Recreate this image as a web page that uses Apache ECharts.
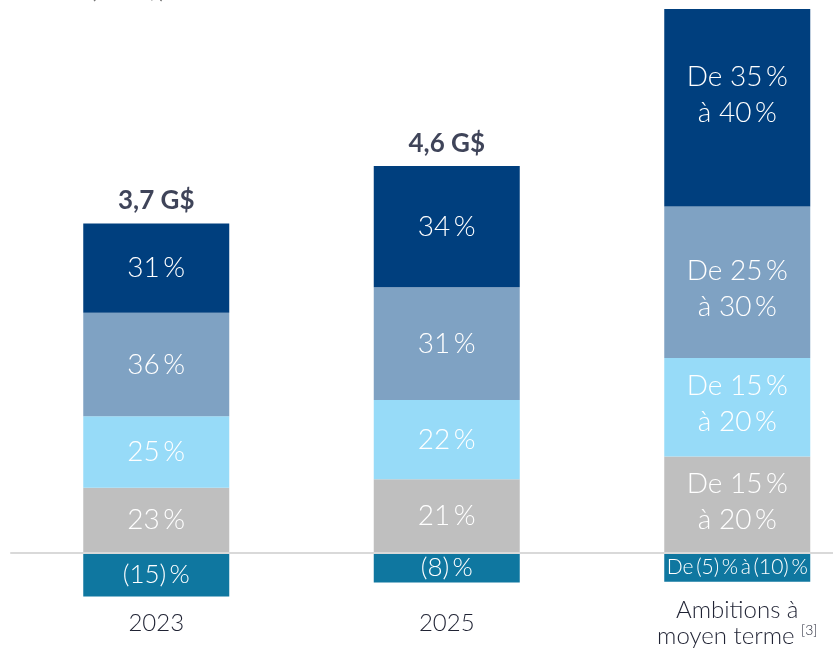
<!DOCTYPE html>
<html>
<head>
<meta charset="utf-8">
<script src="https://cdn.jsdelivr.net/npm/echarts@6/dist/echarts.min.js"></script>
<style>
html,body{margin:0;padding:0;background:#fff;}
#chart{width:833px;height:657px;}
</style>
</head>
<body>
<div id="chart"></div>
<script>
// Categories
var categories = ['2023', '2025', 'Ambitions à\nmoyen terme'];
// Segment values (G$), stacked bottom to top, negative segment below zero
var seg4Gray      = [0.84, 0.95, 1.24];
var seg3LightBlue = [0.92, 1.02, 1.27];
var seg2GrayBlue  = [1.33, 1.45, 1.95];
var seg1Navy      = [1.15, 1.56, 2.54];
var seg5Teal      = [-0.56, -0.38, -0.37];
// Segment labels
var lblGray      = ['23\u2009%', '21\u2009%', 'De 15\u2009%\nà 20\u2009%'];
var lblLightBlue = ['25\u2009%', '22\u2009%', 'De 15\u2009%\nà 20\u2009%'];
var lblGrayBlue  = ['36\u2009%', '31\u2009%', 'De 25\u2009%\nà 30\u2009%'];
var lblNavy      = ['31\u2009%', '34\u2009%', 'De 35\u2009%\nà 40\u2009%'];
var lblTeal      = ['(15)\u2009%', '(8)\u2009%', 'De\u2009(5)\u2009%\u2009à\u2009(10)\u2009%'];
// Totals above bars
var totalLabels  = ['3,7 G$', '4,6 G$', ''];

var FONT = 'Lato, "Noto Sans", sans-serif';

function segSeries(name, data, labels, color, fontSize, ambOffsetY) {
  return {
    name: name,
    type: 'bar',
    stack: 'all',
    barWidth: 146,
    data: data.map(function (v, i) {
      var item = { value: v };
      if (i === 2 && ambOffsetY) item.label = { offset: [0, ambOffsetY] };
      return item;
    }),
    itemStyle: { color: color },
    label: {
      show: true,
      position: 'inside',
      color: '#ffffff',
      fontFamily: FONT,
      fontWeight: 300,
      fontSize: fontSize,
      lineHeight: 36,
      formatter: function (p) { return labels[p.dataIndex]; }
    }
  };
}

var totalsData = categories.map(function (c, i) {
  if (!totalLabels[i]) return null;
  return seg4Gray[i] + seg3LightBlue[i] + seg2GrayBlue[i] + seg1Navy[i];
});

var tealSeries = segSeries('neg', seg5Teal, lblTeal, '#0f77a0', 26, 0);
tealSeries.label.formatter = function (p) {
  return p.dataIndex === 2 ? '{s|' + lblTeal[p.dataIndex] + '}' : lblTeal[p.dataIndex];
};
tealSeries.label.rich = { s: { fontSize: 21, color: '#fff', fontFamily: FONT, fontWeight: 300 } };

var option = {
  animation: false,
  backgroundColor: '#ffffff',
  grid: { left: 11, right: -49.5, top: 9, bottom: 26.3, containLabel: false, outerBoundsMode: 'none' },
  xAxis: {
    type: 'category',
    data: categories,
    z: 5,
    axisLine: { show: true, onZero: true, lineStyle: { color: '#d9d9d9', width: 2 } },
    axisTick: { show: false },
    axisLabel: {
      interval: 0,
      hideOverlap: false,
      margin: -7,
      verticalAlign: 'middle',
      color: '#1f2233',
      fontFamily: FONT,
      fontWeight: 300,
      fontSize: 24,
      lineHeight: 26,
      formatter: function (v, i) {
        if (i === 2) {
          return '{a|Ambitions à}\n{a|moyen terme }{s|[3]}';
        }
        return '{a|' + v + '}';
      },
      rich: {
        a: { fontSize: 24, color: '#1f2233', fontFamily: FONT, fontWeight: 300, lineHeight: 26 },
        s: { fontSize: 14, color: '#1f2233', fontFamily: FONT, fontWeight: 300, verticalAlign: 'top', lineHeight: 26, padding: [0, 0, 6, 0] }
      }
    },
    splitLine: { show: false }
  },
  yAxis: {
    type: 'value',
    min: -1,
    max: 7,
    show: false,
    splitLine: { show: false }
  },
  graphic: [{
    type: 'text',
    left: 90,
    top: -22,
    style: { text: '(en G$)', fill: '#777777', font: '24px ' + FONT }
  }],
  series: [
    segSeries('gray', seg4Gray, lblGray, '#bfbfbf', 28, -3),
    segSeries('lightblue', seg3LightBlue, lblLightBlue, '#97dbf8', 28, -3),
    segSeries('grayblue', seg2GrayBlue, lblGrayBlue, '#7fa2c3', 28, 7),
    segSeries('navy', seg1Navy, lblNavy, '#003f7e', 28, -13),
    tealSeries,
    {
      name: 'totals',
      type: 'scatter',
      data: totalsData,
      symbolSize: 1,
      itemStyle: { color: 'rgba(0,0,0,0)' },
      label: {
        show: true,
        position: 'top',
        distance: 9,
        color: '#0f1530',
        fontFamily: FONT,
        fontWeight: 'bold',
        fontSize: 26,
        formatter: function (p) { return totalLabels[p.dataIndex]; }
      }
    }
  ]
};

var chart = echarts.init(document.getElementById('chart'), null, { renderer: 'canvas' });
chart.setOption(option);
</script>
</body>
</html>
